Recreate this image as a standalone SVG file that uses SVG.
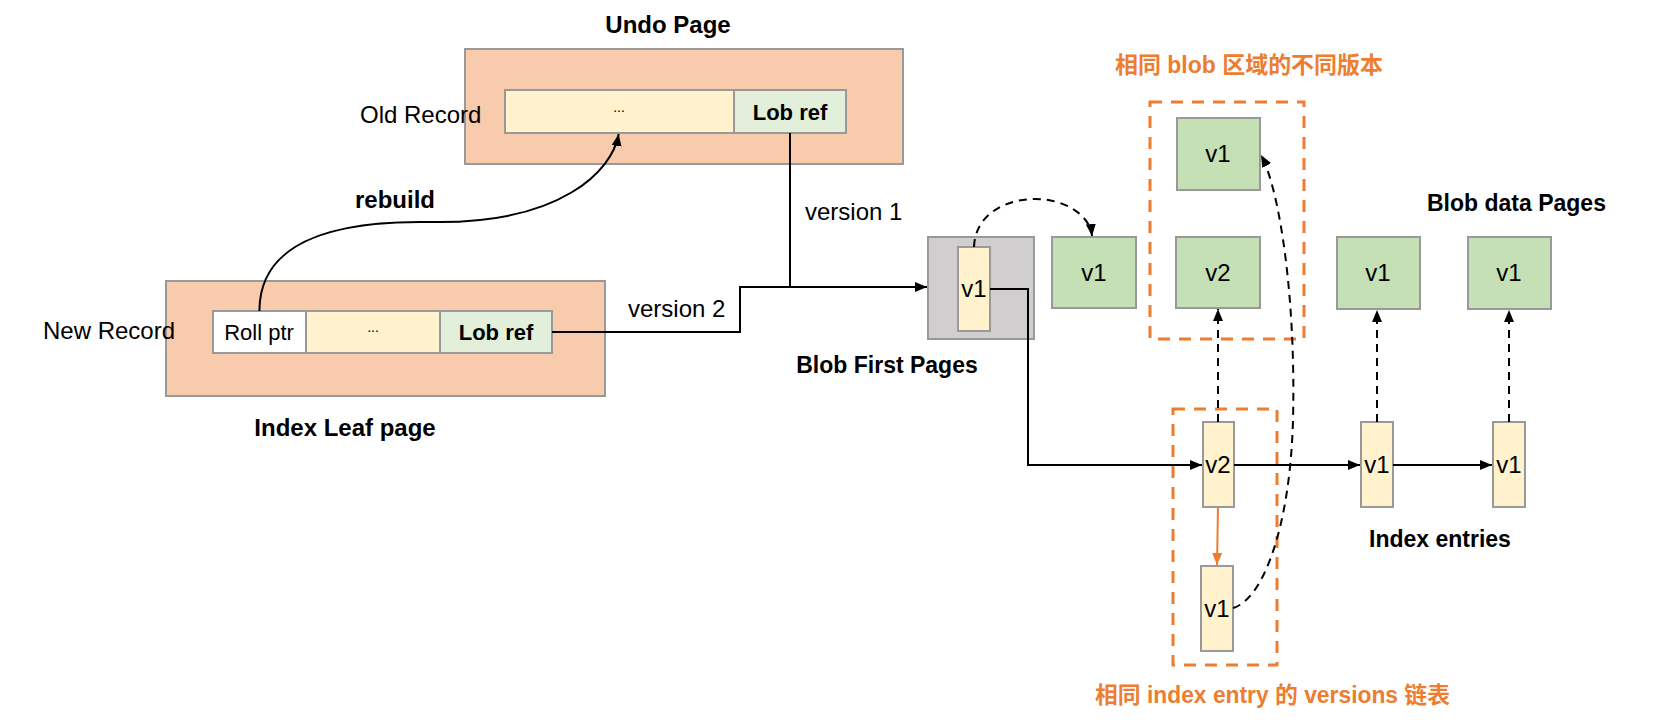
<svg xmlns="http://www.w3.org/2000/svg" width="1656" height="727" viewBox="0 0 1656 727">
<defs>
<style>
.t{font-family:"Liberation Sans",Arial,sans-serif;font-size:24px;fill:#000}
.b{font-family:"Liberation Sans",Arial,sans-serif;font-size:24px;font-weight:bold;fill:#000}
.s{font-size:23px}
.o{font-family:"Liberation Sans","Noto Sans CJK SC",sans-serif;font-size:23px;font-weight:bold;fill:#ED7D31}
.m{text-anchor:middle}
.page{fill:#F8CBAD;stroke:#999;stroke-width:2}
.yel{fill:#FFF2CC;stroke:#999;stroke-width:2}
.wht{fill:#fff;stroke:#999;stroke-width:2}
.lob{fill:#E2EFDA;stroke:#999;stroke-width:2}
.grn{fill:#C5E0B4;stroke:#999;stroke-width:2}
.gry{fill:#D0CECE;stroke:#999;stroke-width:2}
.grp{fill:none;stroke:#ED7D31;stroke-width:3;stroke-dasharray:12 9}
.ln{fill:none;stroke:#000;stroke-width:2}
.dl{fill:none;stroke:#000;stroke-width:2;stroke-dasharray:8 6}
.ol{fill:none;stroke:#ED7D31;stroke-width:2}
</style>
<marker id="ah" viewBox="0 0 12 10" refX="12" refY="5" markerWidth="12" markerHeight="10" markerUnits="userSpaceOnUse" orient="auto"><path d="M0,0 L12,5 L0,10 Z" fill="#000"/></marker>
<marker id="ao" viewBox="0 0 12 10" refX="12" refY="5" markerWidth="12" markerHeight="10" markerUnits="userSpaceOnUse" orient="auto"><path d="M0,0 L12,5 L0,10 Z" fill="#ED7D31"/></marker>
</defs>

<g id="undo-page">
<rect class="page" x="465" y="49" width="438" height="115"/>
<text class="b m" x="668" y="33">Undo Page</text>
</g>
<g id="old-record">
<rect class="yel" x="505" y="90" width="229" height="43"/>
<text class="t m" x="619" y="112" style="font-size:14px">...</text>
<rect class="lob" x="734" y="90" width="112" height="43"/>
<text class="b m" x="790" y="120" style="font-size:22px">Lob ref</text>
<text class="t" x="360" y="123">Old Record</text>
</g>

<g id="index-leaf-page">
<rect class="page" x="166" y="281" width="439" height="115"/>
<text class="b m" x="345" y="436">Index Leaf page</text>
</g>
<g id="new-record">
<rect class="wht" x="213" y="311" width="93" height="42"/>
<text class="t m" x="259" y="340" style="font-size:22px">Roll ptr</text>
<rect class="yel" x="306" y="311" width="134" height="42"/>
<text class="t m" x="373" y="332" style="font-size:14px">...</text>
<rect class="lob" x="440" y="311" width="112" height="42"/>
<text class="b m" x="496" y="340" style="font-size:22px">Lob ref</text>
<text class="t" x="43" y="339">New Record</text>
</g>

<g id="blob-first-page">
<rect class="gry" x="928" y="237" width="106" height="102"/>
<rect class="yel" x="958" y="247" width="32" height="84"/>
<text class="t m" x="974" y="297">v1</text>
<text class="b s m" x="887" y="373">Blob First Pages</text>
</g>

<g id="blob-data-pages">
<rect class="grn" x="1052" y="237" width="84" height="71"/>
<text class="t m" x="1094" y="281">v1</text>
<rect class="grn" x="1177" y="118" width="83" height="72"/>
<text class="t m" x="1218" y="162">v1</text>
<rect class="grn" x="1176" y="237" width="84" height="71"/>
<text class="t m" x="1218" y="281">v2</text>
<rect class="grn" x="1337" y="237" width="83" height="72"/>
<text class="t m" x="1378" y="281">v1</text>
<rect class="grn" x="1468" y="237" width="83" height="72"/>
<text class="t m" x="1509" y="281">v1</text>
<text class="b s" x="1427" y="211">Blob data Pages</text>
</g>

<g id="blob-versions-group">
<rect class="grp" x="1150" y="102" width="154" height="237"/>
<text class="o" x="1115" y="73" textLength="268" lengthAdjust="spacingAndGlyphs">相同 blob 区域的不同版本</text>
</g>

<g id="index-entries">
<rect class="yel" x="1203" y="422" width="31" height="85"/>
<text class="t m" x="1218" y="473">v2</text>
<rect class="yel" x="1201" y="566" width="32" height="85"/>
<text class="t m" x="1217" y="617">v1</text>
<rect class="yel" x="1361" y="422" width="32" height="85"/>
<text class="t m" x="1377" y="473">v1</text>
<rect class="yel" x="1493" y="422" width="32" height="85"/>
<text class="t m" x="1509" y="473">v1</text>
<text class="b s" x="1369" y="547">Index entries</text>
</g>

<g id="versions-chain-group">
<rect class="grp" x="1173" y="409" width="104" height="256"/>
<text class="o" x="1095" y="703" textLength="355" lengthAdjust="spacingAndGlyphs">相同 index entry 的 versions 链表</text>
</g>

<g id="connectors">
<path class="ln" d="M259.4,311 C259.4,260 300,222 420,222 L440,222 C560,222 612,172 618.7,134" marker-end="url(#ah)"/>
<text class="b m" x="395" y="208">rebuild</text>
<path class="ln" d="M790,133 V287"/>
<path class="ln" d="M552,332 H740 V287 H927" marker-end="url(#ah)"/>
<text class="t" x="805" y="220">version 1</text>
<text class="t" x="628" y="317">version 2</text>
<path class="dl" d="M974,247 C975,215 1005,199 1035,199 C1065,199 1090,215 1092,236" marker-end="url(#ah)"/>
<path class="ln" d="M990,289 H1028 V465 H1202" marker-end="url(#ah)"/>
<path class="ln" d="M1234,465 H1360" marker-end="url(#ah)"/>
<path class="ln" d="M1393,465 H1492" marker-end="url(#ah)"/>
<path class="ol" d="M1218,507 L1217,565" marker-end="url(#ao)"/>
<path class="dl" d="M1218,422 V309" marker-end="url(#ah)"/>
<path class="dl" d="M1377,422 V310" marker-end="url(#ah)"/>
<path class="dl" d="M1509,422 V310" marker-end="url(#ah)"/>
<path class="dl" d="M1233,608 C1262,600 1290,530 1293,420 C1296,300 1280,190 1261,155" marker-end="url(#ah)"/>
</g>
</svg>
